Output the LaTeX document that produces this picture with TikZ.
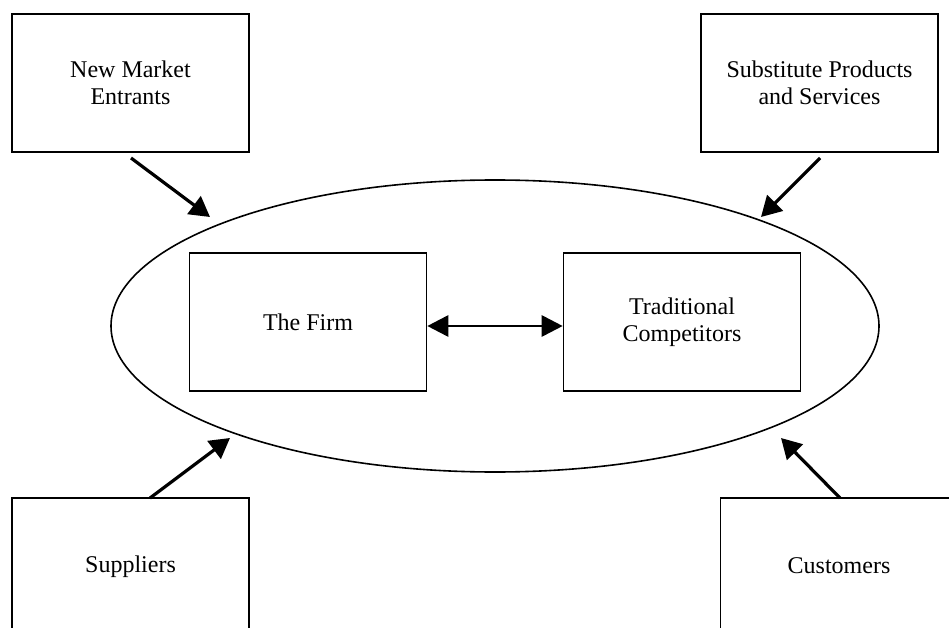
\documentclass[tikz,border=0pt]{standalone}
\usepackage{fontspec}
\setmainfont{Liberation Serif}
\usetikzlibrary{arrows.meta}
\begin{document}
\begin{tikzpicture}[x=1pt,y=-1pt,
  box/.style={draw, line width=1.6pt, minimum width=237pt, minimum height=138pt,
    align=center, inner sep=0pt, font=\fontsize{24pt}{27pt}\selectfont},
  force/.style={line width=3.2pt, -{Triangle[length=20pt,width=22pt]}},
  both/.style={line width=2.8pt, {Triangle[length=21pt,width=21pt]}-{Triangle[length=21pt,width=21pt]}},
  market/.style={draw, line width=1.6pt}]
\useasboundingbox (0,0) rectangle (949,628);
\clip (0,0) rectangle (949,628);
\fill[white] (0,0) rectangle (949,628);
% ellipse (the market)
\draw[market] (495,326) ellipse [x radius=384, y radius=146];
% boxes
\node[box] (nme) at (130.5,83) {New Market\\Entrants};
\node[box] (sub) at (819.5,83) {Substitute Products\\and Services};
\node[box] (sup) at (130.5,567) {\raisebox{2.5pt}{Suppliers}};
\node[box] (cus) at (839,567) {\raisebox{2.5pt}{Customers}};
\node[box] (firm) at (308,322) {The Firm};
\node[box] (comp) at (682,322) {Traditional\\Competitors};
% arrow end points
\coordinate (nmeS) at (131,158);
\coordinate (nmeT) at (210,217);
\coordinate (subS) at (820,158);
\coordinate (subT) at (761,217);
\coordinate (supS) at (150,498);
\coordinate (supT) at (230,438);
\coordinate (cusS) at (840,498);
\coordinate (cusT) at (781,438);
\draw[force] (nmeS) -- (nmeT);
\draw[force] (subS) -- (subT);
\draw[force] (supS) -- (supT);
\draw[force] (cusS) -- (cusT);
\draw[both] ([yshift=-4pt]firm.east) -- ([yshift=-4pt]comp.west);
\end{tikzpicture}
\end{document}
